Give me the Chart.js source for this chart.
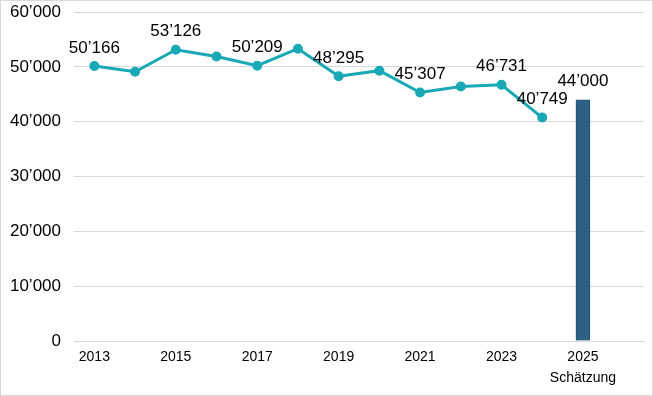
<!DOCTYPE html>
<html>
<head>
<meta charset="utf-8">
<script src="https://cdn.jsdelivr.net/npm/chart.js@4"></script>
<style>
  body { margin: 0; background: #fff; }
  #wrap { width: 651px; height: 394px; border: 1px solid #d9d9d9; }
</style>
</head>
<body>
<div id="wrap"><canvas id="chart" width="651" height="394"></canvas></div>
<script>
// Jahre (2026 bleibt leer, nur als Abstand rechts)
const years = ['2013', '2014', '2015', '2016', '2017', '2018', '2019', '2020', '2021', '2022', '2023', '2024', ['2025', 'Schätzung'], '2026'];
const actual = [50166, 49100, 53126, 51900, 50209, 53300, 48295, 49300, 45307, 46400, 46731, 40749, null, null];
const estimate = [null, null, null, null, null, null, null, null, null, null, null, null, 44000, null];
const labelledActual = [0, 2, 4, 6, 8, 10, 11];
const labelledEstimate = [12];
const yTicks = [0, 10000, 20000, 30000, 40000, 50000, 60000];

function fmt(v) {
  return String(v).replace(/\B(?=(\d{3})+(?!\d))/g, '\u2019');
}

// eigene Datenbeschriftung (kein datalabels-Plugin)
const valueLabels = {
  id: 'valueLabels',
  afterDatasetsDraw(chart) {
    const ctx = chart.ctx;
    ctx.save();
    ctx.font = '17px "Liberation Sans", Arial, sans-serif';
    ctx.fillStyle = '#000';
    ctx.textAlign = 'center';
    ctx.textBaseline = 'middle';
    chart.data.datasets.forEach((ds, di) => {
      const meta = chart.getDatasetMeta(di);
      ds.labelled.forEach(i => {
        const el = meta.data[i];
        if (!el) return;
        ctx.fillText(fmt(ds.data[i]), el.x, el.y - 18);
      });
    });
    ctx.restore();
  }
};

const ctx = document.getElementById('chart');
new Chart(ctx, {
  type: 'bar',
  data: {
    labels: years,
    datasets: [{
      type: 'line',
      label: 'Anzahl',
      data: actual,
      labelled: labelledActual,
      borderColor: '#19a9b6',
      backgroundColor: '#19a9b6',
      borderWidth: 3,
      pointRadius: 3.5,
      pointHoverRadius: 3.5,
      tension: 0,
      order: 0
    }, {
      type: 'bar',
      label: 'Schätzung',
      data: estimate,
      labelled: labelledEstimate,
      backgroundColor: '#2e6083',
      borderColor: '#24506e',
      borderWidth: 1,
      barThickness: 14,
      order: 1
    }]
  },
  options: {
    responsive: false,
    animation: false,
    layout: { padding: { left: 6, right: 8, top: 11, bottom: 0 } },
    plugins: {
      legend: { display: false },
      tooltip: { enabled: false }
    },
    scales: {
      x: {
        grid: { display: false, drawTicks: false },
        border: { display: true, color: '#d9d9d9', width: 1 },
        ticks: {
          autoSkip: false,
          maxRotation: 0,
          padding: 6,
          color: '#000',
          font: { family: '"Liberation Sans", Arial, sans-serif', size: 14, lineHeight: 1.5 },
          callback: function (val, i) {
            return i % 2 === 0 ? this.getLabelForValue(val) : null;
          }
        }
      },
      y: {
        min: 0,
        max: 60000,
        afterBuildTicks: axis => { axis.ticks = yTicks.map(v => ({ value: v })); },
        afterFit: axis => {
          axis.width = 67;
          axis.paddingTop = 0;
          axis.paddingBottom = 0;
        },
        grid: { color: '#d9d9d9', lineWidth: 1, drawTicks: false },
        border: { display: false },
        ticks: {
          padding: 13,
          color: '#000',
          font: { family: '"Liberation Sans", Arial, sans-serif', size: 17 },
          callback: v => fmt(v)
        }
      }
    }
  },
  plugins: [valueLabels]
});
</script>
</body>
</html>
